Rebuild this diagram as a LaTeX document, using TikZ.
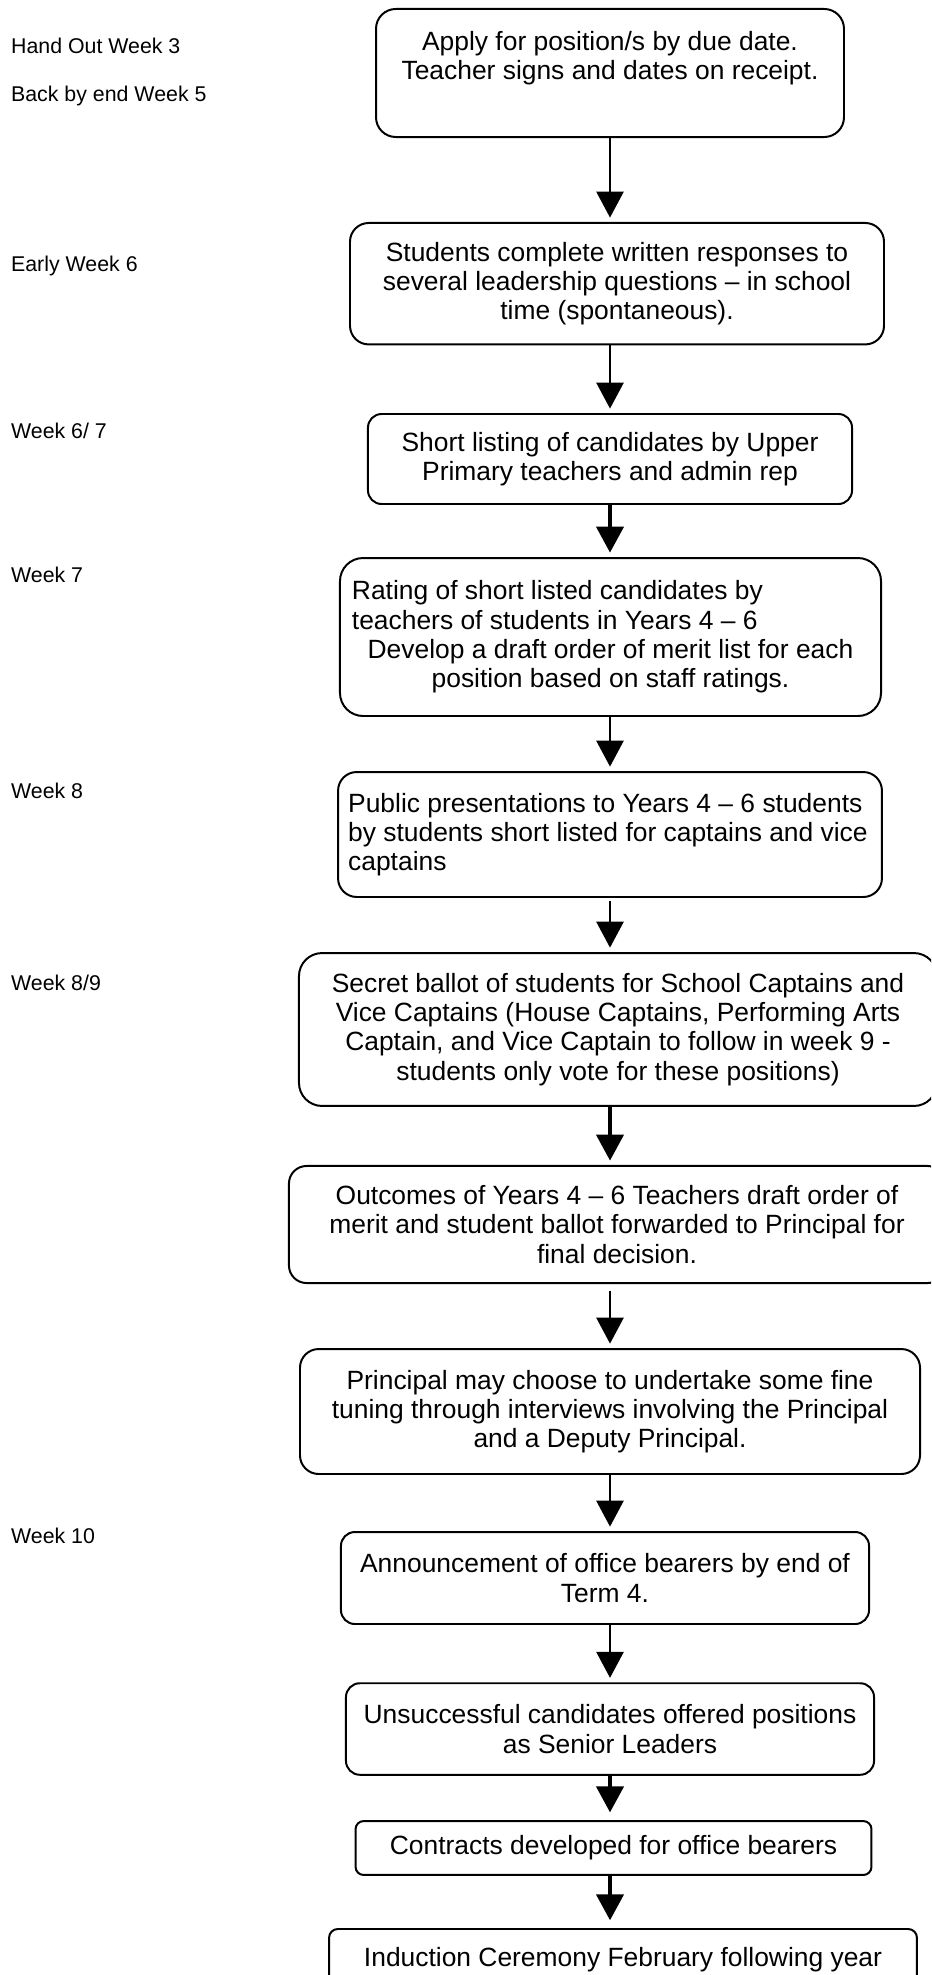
\documentclass[tikz,border=0pt]{standalone}
\usepackage{fontspec}
\setmainfont{Liberation Sans}
\usetikzlibrary{arrows.meta}

\begin{document}
\begin{tikzpicture}[x=0.4545pt, y=-0.4545pt,
    main/.style = {draw, line width=0.9pt, align=center, inner sep=2pt, font=\fontsize{12}{13.3}\selectfont},
    week/.style = {anchor=base west, inner sep=0pt, font=\fontsize{9.7}{11}\selectfont},
    arr/.style = {-{Triangle[width=12.3pt,length=11.8pt]}, line width=1.1pt, shorten >=2pt}]
    \path[use as bounding box] (0,0) rectangle (931,1975);
    \clip (0,0) rectangle (931,1975);

    % timing down the left
    \node[week] (w3)  at (10.7,54)    {Hand Out Week 3};
    \node[week] (w5)  at (10.7,101.7) {Back by end Week 5};
    \node[week] (w6)  at (10.7,271)   {Early Week 6};
    \node[week] (w67) at (10.7,438)   {Week 6/ 7};
    \node[week] (w7)  at (10.7,582)   {Week 7};
    \node[week] (w8)  at (10.7,798)   {Week 8};
    \node[week] (w89) at (10.7,990)   {Week 8/9};
    \node[week] (w10) at (10.7,1543)  {Week 10};

    % steps
    \node[main, minimum width=212.7pt, minimum height=58.2pt, rounded corners=9pt] (1) at (610,73)
        {Apply for position/s by due date.\\Teacher signs and dates on receipt.\\[3pt]\mbox{}};
    \node[main, minimum width=242.7pt, minimum height=55.2pt, rounded corners=8.5pt] (2) at (617,283.7)
        {Students complete written responses to\\several leadership questions – in school\\time (spontaneous).};
    \node[main, minimum width=220pt, minimum height=40.9pt, rounded corners=6.2pt] (3) at (610,459)
        {Short listing of candidates by Upper\\Primary teachers and admin rep};
    \node[main, minimum width=245.9pt, minimum height=71.8pt, rounded corners=10.5pt] (4) at (610.5,637)
        {\makebox[235pt][l]{Rating of short listed candidates by}\\\makebox[235pt][l]{teachers of students in Years 4 – 6}\\Develop a draft order of merit list for each\\position based on staff ratings.};
    \node[main, minimum width=247.2pt, minimum height=56.8pt, rounded corners=8.5pt] (5) at (610,834.5)
        {\makebox[238pt][l]{Public presentations to Years 4 – 6 students}\\\makebox[238pt][l]{by students short listed for captains and vice}\\\makebox[238pt][l]{captains}};
    \node[main, minimum width=290pt, minimum height=69.5pt, rounded corners=10.5pt] (6) at (618,1029.5)
        {Secret ballot of students for School Captains and\\Vice Captains (House Captains, Performing Arts\\Captain, and Vice Captain to follow in week 9 -\\students only vote for these positions)};
    \node[main, minimum width=298.2pt, minimum height=53.2pt, rounded corners=8pt] (7) at (617,1224.5)
        {Outcomes of Years 4 – 6 Teachers draft order of\\merit and student ballot forwarded to Principal for\\final decision.};
    \node[main, minimum width=281.8pt, minimum height=56.8pt, rounded corners=8.5pt] (8) at (610,1411.5)
        {Principal may choose to undertake some fine\\tuning through interviews involving the Principal\\and a Deputy Principal.};
    \node[main, minimum width=240pt, minimum height=41.8pt, rounded corners=6.3pt] (9) at (605,1578)
        {Announcement of office bearers by end of\\Term 4.};
    \node[main, minimum width=240pt, minimum height=41.6pt, rounded corners=6.3pt] (10) at (610,1729)
        {Unsuccessful candidates offered positions\\as Senior Leaders};
    \node[main, minimum width=234.5pt, minimum height=24.5pt, rounded corners=3.7pt] (11) at (613.5,1848)
        {Contracts developed for office bearers};
    \node[main, minimum width=267.2pt, minimum height=28.2pt, rounded corners=4pt] (12) at (623,1960)
        {Induction Ceremony February following year};

    \coordinate (mid) at (610,0);

    \path[arr]
    (1.south -| mid)  edge                                   (2.north -| mid)
    (2.south -| mid)  edge                                   (3.north -| mid)
    (3.south -| mid)  edge[line width=1.8pt]                 (4.north -| mid)
    (4.south -| mid)  edge                                   (5.north -| mid)
    (5.south -| mid)  edge[shorten <=1.5pt]                  (6.north -| mid)
    (6.south -| mid)  edge[line width=1.8pt]                 (7.north -| mid)
    (7.south -| mid)  edge[shorten <=3pt]                    (8.north -| mid)
    (8.south -| mid)  edge                                   (9.north -| mid)
    (9.south -| mid)  edge                                   (10.north -| mid)
    (10.south -| mid) edge[line width=1.8pt, shorten >=3.5pt] (11.north -| mid)
    (11.south -| mid) edge[line width=1.8pt, shorten >=3.5pt] (12.north -| mid);
\end{tikzpicture}
\end{document}
